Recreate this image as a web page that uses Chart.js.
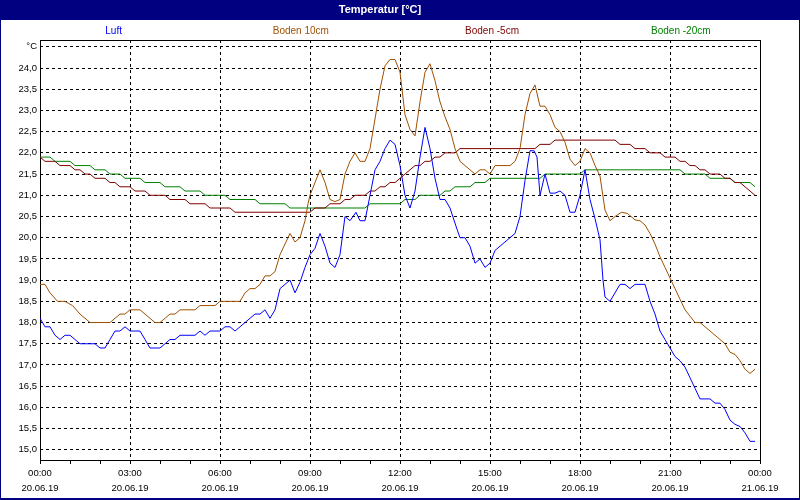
<!DOCTYPE html>
<html>
<head>
<meta charset="utf-8">
<title>Temperatur</title>
<script src="https://cdn.jsdelivr.net/npm/chart.js@4.4.1/dist/chart.umd.min.js"></script>
<style>
  html, body { margin: 0; padding: 0; background: #fff; }
</style>
</head>
<body>
<canvas id="myChart" width="800" height="500"></canvas>
<script>
// minutes since 20.06.19 00:00
var luftTimes  = [0,10,20,30,40,50,60,70,80,110,120,130,140,150,160,170,180,200,210,220,240,250,260,270,280,310,320,330,340,360,370,380,390,400,410,420,430,440,450,460,470,480,490,500,510,520,530,540,550,560,570,580,590,600,610,620,632,640,650,660,670,680,690,700,710,720,730,740,750,760,770,780,790,800,810,820,834,840,850,860,870,880,890,900,910,930,950,960,970,980,988,994,1000,1010,1020,1030,1040,1050,1060,1070,1080,1090,1100,1110,1120,1126,1130,1140,1150,1160,1170,1180,1190,1210,1220,1230,1240,1250,1260,1270,1280,1290,1300,1310,1320,1340,1350,1360,1370,1380,1390,1400,1410,1420,1430];
var luftValues = [18.1,17.9,17.9,17.7,17.6,17.7,17.7,17.6,17.5,17.5,17.4,17.4,17.6,17.8,17.8,17.9,17.8,17.8,17.6,17.4,17.4,17.5,17.6,17.6,17.7,17.7,17.8,17.7,17.8,17.8,17.9,17.9,17.8,17.9,18.0,18.1,18.2,18.2,18.3,18.1,18.3,18.8,18.9,19.0,18.7,18.95,19.3,19.6,19.75,20.1,19.8,19.4,19.3,19.6,20.5,20.4,20.6,20.4,20.4,21.0,21.6,21.8,22.1,22.3,22.2,21.7,21.0,20.7,21.1,21.9,22.6,22.1,21.4,20.9,20.9,20.7,20.2,20.0,20.0,19.8,19.4,19.5,19.3,19.4,19.7,19.9,20.1,20.5,21.35,22.05,22.05,21.9,21.0,21.5,21.05,21.05,21.1,21.0,20.6,20.6,21.0,21.6,20.9,20.45,19.95,19.0,18.6,18.5,18.7,18.9,18.9,18.8,18.9,18.9,18.5,18.2,17.8,17.6,17.4,17.2,17.1,16.95,16.7,16.45,16.2,16.2,16.1,16.1,15.95,15.7,15.6,15.55,15.4,15.2,15.2];

var boden10Times  = [0,10,20,35,50,65,80,100,140,160,170,180,200,210,220,230,240,250,260,270,280,310,320,350,360,400,410,420,430,440,450,460,470,480,490,500,510,520,530,536,540,550,560,570,580,590,600,610,620,630,640,650,660,670,680,690,700,710,720,730,740,750,760,770,780,790,800,810,820,830,840,850,860,870,880,890,900,910,940,950,960,970,980,990,1000,1010,1020,1030,1040,1050,1060,1070,1080,1090,1100,1110,1120,1130,1140,1150,1163,1175,1190,1200,1210,1220,1230,1240,1250,1260,1270,1280,1290,1300,1310,1320,1330,1340,1350,1360,1370,1380,1390,1400,1410,1420,1430];
var boden10Values = [18.9,18.9,18.7,18.5,18.5,18.4,18.2,18.0,18.0,18.2,18.2,18.3,18.3,18.2,18.1,18.0,18.0,18.1,18.2,18.2,18.3,18.3,18.4,18.4,18.5,18.5,18.7,18.8,18.8,18.9,19.1,19.1,19.2,19.6,19.85,20.1,19.9,20.0,20.4,20.8,21.0,21.3,21.6,21.3,20.9,20.85,20.9,21.5,21.8,22.0,21.8,21.8,22.1,22.8,23.5,24.05,24.2,24.2,23.9,22.9,22.55,22.4,23.2,23.9,24.1,23.7,23.2,22.85,22.55,22.1,21.8,21.7,21.6,21.5,21.6,21.6,21.5,21.7,21.7,21.8,22.1,22.9,23.4,23.6,23.1,23.1,22.9,22.6,22.5,22.25,21.85,21.7,21.8,22.1,22.0,21.7,21.45,20.65,20.4,20.5,20.6,20.57,20.42,20.4,20.3,20.1,19.85,19.55,19.3,19.05,18.8,18.55,18.3,18.15,18.0,18.0,17.9,17.8,17.7,17.6,17.5,17.3,17.25,17.1,16.9,16.8,16.9];

var boden5Times  = [0,10,30,40,60,70,80,90,100,110,130,140,150,160,180,190,210,220,250,260,290,300,330,340,380,390,540,550,570,580,600,610,620,630,650,660,670,680,690,700,710,720,730,740,750,760,770,780,790,800,810,830,840,990,1000,1020,1030,1150,1160,1180,1190,1210,1220,1240,1250,1270,1280,1290,1300,1310,1320,1330,1340,1360,1370,1380,1390,1400,1410,1420,1430];
var boden5Values = [21.9,21.8,21.8,21.7,21.7,21.6,21.6,21.5,21.5,21.4,21.4,21.3,21.3,21.2,21.2,21.1,21.1,21.0,21.0,20.9,20.9,20.8,20.8,20.7,20.7,20.6,20.6,20.7,20.7,20.8,20.8,20.9,20.9,21.0,21.0,21.1,21.1,21.2,21.2,21.3,21.3,21.4,21.5,21.6,21.7,21.7,21.8,21.8,21.9,21.9,22.0,22.0,22.1,22.1,22.2,22.2,22.3,22.3,22.2,22.2,22.1,22.1,22.0,22.0,21.9,21.9,21.8,21.8,21.7,21.7,21.6,21.6,21.5,21.5,21.4,21.4,21.3,21.3,21.2,21.1,21.0];

var boden20Times  = [0,20,30,60,70,100,110,130,140,160,170,200,210,240,250,280,290,320,330,370,380,430,440,490,500,650,660,720,730,750,760,800,810,820,830,860,870,890,900,1000,1010,1080,1090,1280,1290,1330,1340,1380,1390,1420,1430];
var boden20Values = [21.9,21.9,21.8,21.8,21.7,21.7,21.6,21.6,21.5,21.5,21.4,21.4,21.3,21.3,21.2,21.2,21.1,21.1,21.0,21.0,20.9,20.9,20.8,20.8,20.7,20.7,20.8,20.8,20.9,20.9,21.0,21.0,21.1,21.1,21.2,21.2,21.3,21.3,21.4,21.4,21.5,21.5,21.6,21.6,21.5,21.5,21.4,21.4,21.3,21.3,21.2];

var seriesNames = ['Luft', 'Boden 10cm', 'Boden -5cm', 'Boden -20cm'];
var seriesColors = ['#0000ff', '#a05000', '#800000', '#008000'];

var yTicks = [15.0,15.5,16.0,16.5,17.0,17.5,18.0,18.5,19.0,19.5,20.0,20.5,21.0,21.5,22.0,22.5,23.0,23.5,24.0,24.5];
var xTicks = [0,180,360,540,720,900,1080,1260,1440];
var xTimeLabels = ['00:00','03:00','06:00','09:00','12:00','15:00','18:00','21:00','00:00'];
var xDateLabels = ['20.06.19','20.06.19','20.06.19','20.06.19','20.06.19','20.06.19','20.06.19','20.06.19','21.06.19'];

var FONT = 'Liberation Sans';

function toPoints(times, values) {
    var pts = [];
    for (var i = 0; i < times.length; i++) {
        pts.push({x: times[i], y: values[i]});
    }
    return pts;
}

var allTimes = [luftTimes, boden10Times, boden5Times, boden20Times];
var allValues = [luftValues, boden10Values, boden5Values, boden20Values];

var datasets = [];
for (var i = 0; i < seriesNames.length; i++) {
    datasets.push({
        label: seriesNames[i],
        data: toPoints(allTimes[i], allValues[i]),
        borderColor: seriesColors[i],
        backgroundColor: seriesColors[i],
        borderWidth: 1,
        pointRadius: 0,
        tension: 0,
        fill: false
    });
}

// navy window frame + title bar
var background = {
    id: 'background',
    beforeDraw: function(chart) {
        var ctx = chart.ctx;
        ctx.save();
        ctx.fillStyle = '#000080';
        ctx.fillRect(0, 0, chart.width, chart.height);
        ctx.fillStyle = '#ffffff';
        ctx.fillRect(1, 20, chart.width - 2, chart.height - 22);
        ctx.restore();
    }
};

// solid box round the plot
var plotFrame = {
    id: 'plotFrame',
    beforeDatasetsDraw: function(chart) {
        var a = chart.chartArea;
        var ctx = chart.ctx;
        ctx.save();
        ctx.strokeStyle = '#000';
        ctx.lineWidth = 1;
        ctx.strokeRect(Math.round(a.left) + 0.5, Math.round(a.top) + 0.5, Math.round(a.right - a.left), Math.round(a.bottom - a.top));
        ctx.restore();
    }
};

// coloured series names above the plot, no boxes
var textLegend = {
    id: 'textLegend',
    afterDraw: function(chart) {
        var ctx = chart.ctx;
        var centers = [0.142, 0.376, 0.615, 0.851];
        ctx.save();
        ctx.font = '10px "' + FONT + '"';
        ctx.textAlign = 'center';
        ctx.textBaseline = 'middle';
        for (var i = 0; i < seriesNames.length; i++) {
            ctx.fillStyle = seriesColors[i];
            ctx.fillText(seriesNames[i], chart.width * centers[i], 31);
        }
        ctx.restore();
    }
};

const config = {
    type: 'line',
    data: { datasets: datasets },
    options: {
        responsive: false,
        animation: false,
        layout: { padding: { left: 0, right: 40, top: 0, bottom: 0 } },
        plugins: {
            legend: { display: false },
            tooltip: { enabled: false },
            title: {
                display: true,
                text: 'Temperatur [°C]',
                color: '#ffffff',
                font: { family: FONT, size: 11, weight: 'bold' },
                padding: { top: 3, bottom: 23.8 }
            }
        },
        scales: {
            x: {
                type: 'linear',
                min: 0,
                max: 1440,
                afterBuildTicks: function(scale) {
                    var t = [];
                    for (var m = 0; m <= 1440; m += 60) t.push({value: m});
                    scale.ticks = t;
                },
                afterFit: function(scale) { scale.height = 40; },
                border: { display: false, dash: [3, 3] },
                grid: {
                    color: function(ctx) {
                        return (ctx.tick && xTicks.indexOf(ctx.tick.value) >= 0) ? '#000' : 'rgba(0,0,0,0)';
                    },
                    tickColor: '#000',
                    tickLength: 4,
                    lineWidth: 1
                },
                ticks: {
                    autoSkip: false,
                    maxRotation: 0,
                    padding: 2,
                    color: '#000',
                    font: { family: FONT, size: 9.5, lineHeight: 1.6 },
                    callback: function(value) {
                        var k = xTicks.indexOf(value);
                        return k >= 0 ? [xTimeLabels[k], xDateLabels[k]] : '';
                    }
                }
            },
            y: {
                type: 'linear',
                min: 14.76,
                max: 24.66,
                afterBuildTicks: function(scale) {
                    scale.ticks = yTicks.map(function(v) { return {value: v}; });
                },
                afterFit: function(scale) { scale.width = 40; },
                border: { display: false, dash: [3, 3] },
                grid: { color: '#000', drawTicks: false, lineWidth: 1 },
                ticks: {
                    padding: 3,
                    color: '#000',
                    font: { family: FONT, size: 9.5 },
                    callback: function(value) {
                        if (value === 24.5) return '°C';
                        return value.toFixed(1).replace('.', ',');
                    }
                }
            }
        }
    },
    plugins: [background, plotFrame, textLegend]
};

const myChart = new Chart(document.getElementById('myChart'), config);
</script>
</body>
</html>
